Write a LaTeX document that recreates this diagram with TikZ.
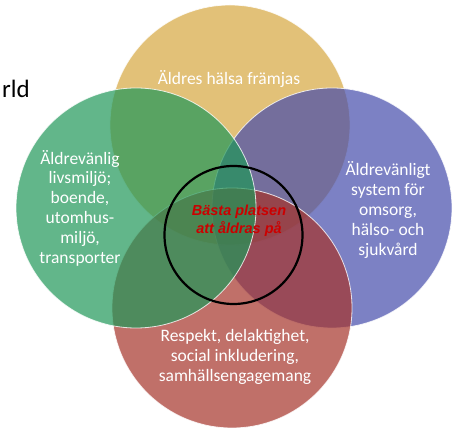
\documentclass[tikz,border=0pt]{standalone}
\usepackage{fontspec}
\setmainfont{Carlito}
\newfontfamily\slogan{Liberation Sans}
\definecolor{halsagul}{RGB}{214,166,62}
\definecolor{miljogron}{RGB}{31,151,88}
\definecolor{vardbla}{RGB}{69,76,171}
\definecolor{respektrod}{RGB}{165,51,42}
\definecolor{sloganrod}{RGB}{204,0,0}

\begin{document}
\begin{tikzpicture}[x=1pt,y=-1pt,
  venn/.style={circle, minimum size=240pt, inner sep=0pt, draw=white, line width=0.8pt, fill opacity=0.7, draw opacity=0.8},
  omrade/.style={text=white, font=\fontsize{17.5}{19.8}\selectfont, align=center, inner sep=0pt}]
  \useasboundingbox (0,0) rectangle (456,430);
  % the four circles, green on top
  \node[venn, fill=halsagul] (halsa) at (230,125) {};
  \node[venn, fill=vardbla] (vard) at (332,208) {};
  \node[venn, fill=respektrod] (respekt) at (232,308) {};
  \node[venn, fill=miljogron] (miljo) at (136,208) {};

  \node[omrade] (halsatext) at (229,79) {Äldres hälsa främjas};
  \node[omrade] (miljotext) at (80,208) {Äldrevänlig\\livsmiljö;\\boende,\\utomhus-\\miljö,\\transporter};
  \node[omrade] (vardtext) at (388,210) {Äldrevänligt\\system för\\omsorg,\\hälso- och\\sjukvård};
  \node[omrade] (respekttext) at (235,357) {Respekt, delaktighet,\\social inkludering,\\samhällsengagemang};

  % the middle
  \node[circle, draw=black, line width=2.2pt, minimum size=138pt, inner sep=0pt] (basta) at (233.5,235) {};
  \node[text=sloganrod, font=\slogan\bfseries\itshape\fontsize{14.5}{18}\selectfont, align=center, inner sep=0pt] (bastatext) at (239,221) {Bästa platsen\\att åldras på};

  \node[anchor=base west, font=\fontsize{25}{30}\selectfont, inner sep=0pt] (world) at (2,98) {rld};
\end{tikzpicture}
\end{document}
